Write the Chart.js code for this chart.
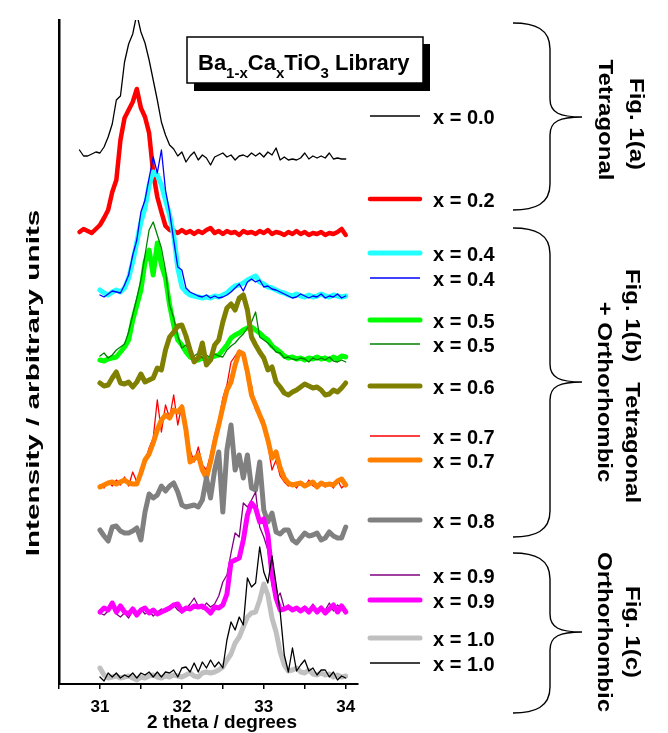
<!DOCTYPE html>
<html>
<head>
<meta charset="utf-8">
<script src="https://cdn.jsdelivr.net/npm/chart.js@4.4.1/dist/chart.umd.min.js"></script>
<style>
  html, body { margin: 0; padding: 0; background: #fff; }
  canvas { display: block; }
</style>
</head>
<body>
<canvas id="xrd" width="668" height="733"></canvas>
<script>
// 2 theta grids (degrees)
const thetaWide = [30.75, 30.80, 30.85, 30.90, 30.95,
  31.00, 31.05, 31.10, 31.15, 31.20, 31.25, 31.30, 31.35, 31.40, 31.45,
  31.50, 31.55, 31.60, 31.65, 31.70, 31.75, 31.80, 31.85, 31.90, 31.95,
  32.00, 32.05, 32.10, 32.15, 32.20, 32.25, 32.30, 32.35, 32.40, 32.45,
  32.50, 32.55, 32.60, 32.65, 32.70, 32.75, 32.80, 32.85, 32.90, 32.95,
  33.00, 33.05, 33.10, 33.15, 33.20, 33.25, 33.30, 33.35, 33.40, 33.45,
  33.50, 33.55, 33.60, 33.65, 33.70, 33.75, 33.80, 33.85, 33.90, 33.95, 34.00];
const theta = [
  31.00, 31.05, 31.10, 31.15, 31.20, 31.25, 31.30, 31.35, 31.40, 31.45,
  31.50, 31.55, 31.60, 31.65, 31.70, 31.75, 31.80, 31.85, 31.90, 31.95,
  32.00, 32.05, 32.10, 32.15, 32.20, 32.25, 32.30, 32.35, 32.40, 32.45,
  32.50, 32.55, 32.60, 32.65, 32.70, 32.75, 32.80, 32.85, 32.90, 32.95,
  33.00, 33.05, 33.10, 33.15, 33.20, 33.25, 33.30, 33.35, 33.40, 33.45,
  33.50, 33.55, 33.60, 33.65, 33.70, 33.75, 33.80, 33.85, 33.90, 33.95, 34.00];

// stacked intensities (arbitrary units, offsets included)
const x00 = [534,528,528,530,532, 531,537,547,560,584, 588,622,640,650,670, 652,641,624,604,584,
  562,549,539,535,528, 532,522,528,532,524, 529,526,519,527,529, 531,527,529,524,528,
  529,527,531,528,531, 527,532,529,536,524, 527,524,525,524,526, 531,525,528,526,528,
  526,531,525,526,525, 525];
const x02 = [452,455,453,451,455, 459,466,474,492,504, 544,566,574,582,595, 576,567,551,511,487,
  472,458,454,453,451, 454,451,453,450,453, 451,454,456,451,453, 450,453,451,452,449,
  453,451,452,450,453, 451,454,450,452,451, 449,452,450,453,450, 452,449,451,450,452,
  449,451,450,452,455, 449];
const x04a = [394,391,389,392,394, 392,396,406,422,442, 462,476,499,512,509, 499,484,469,449,416,
  397,392,389,388,387, 386,387,386,388,387, 389,391,395,398,399, 401,404,406,408,402,
  400,397,396,394,392, 391,389,388,390,388, 387,389,387,388,390, 388,387,389,388,387, 388];
const x04b = [389,387,390,393,392, 391,399,409,429,444, 472,484,506,527,511, 534,494,472,444,417,
  414,396,392,390,388, 387,389,386,388,386, 387,389,392,396,400, 393,402,405,402,404,
  397,398,395,394,392, 390,388,386,387,390, 388,386,388,387,390, 386,388,387,390,386, 388];
const x05a = [324,323,325,326,327, 332,337,344,364,379, 394,422,434,409,441, 419,406,379,359,344,
  339,332,327,325,324, 326,324,326,328,329, 334,339,346,349,351, 354,356,357,354,351,
  347,344,338,335,332, 328,326,327,325,326, 324,326,325,327,325, 326,324,327,325,328, 327];
const x05b = [328,331,326,329,334, 337,340,352,369,386, 404,429,454,462,449, 436,414,379,366,348,
  336,339,331,328,331, 326,329,326,330,328, 327,334,338,341,346, 350,356,362,372,347,
  344,341,337,332,331, 326,327,325,324,326, 325,322,326,324,326, 324,327,323,322,324, 322];
const x06 = [301,298,299,306,312, 301,300,302,297,302, 310,302,304,306,316, 314,334,347,352,358,
  359,348,334,322,326, 341,319,324,339,344, 362,376,380,374,386, 389,374,347,339,332,
  326,314,317,302,297, 291,289,292,294,297, 300,298,296,297,294, 289,290,294,292,296, 301];
const x07a = [199,196,202,198,204, 199,207,198,212,202, 216,222,236,246,284, 252,279,266,289,259,
  279,244,234,222,237, 219,214,229,249,264, 286,299,322,328,334, 332,304,299,274,269,
  264,239,214,224,208, 202,198,201,196,202, 197,204,198,196,202, 197,201,196,204,196, 200];
const x07b = [197,199,201,202,200, 202,204,201,200,200, 211,224,230,241,254, 264,269,266,274,272,
  277,254,222,225,229, 214,206,222,242,259, 277,294,302,319,332, 330,312,289,279,269,
  259,244,226,232,216, 206,201,199,200,201, 198,200,202,197,201, 199,200,199,203,205, 199];
const x08 = [154,148,143,157,158, 153,151,151,153,156, 144,172,190,186,189, 198,193,198,201,192,
  179,177,178,179,177, 184,206,186,214,232, 172,234,259,214,229, 206,229,196,194,222,
  174,162,171,152,150, 154,154,144,141,146, 151,148,149,151,144, 146,152,148,146,146, 157];
const x09a = [71,69,73,78,70, 67,71,66,73,69, 75,70,73,68,72, 75,72,74,79,74,
  71,75,80,86,78, 75,81,77,80,88, 102,109,131,151,147, 181,177,184,192,157,
  147,134,99,84,91, 76,79,73,77,72, 78,74,80,73,77, 74,81,73,79,75, 73];
const x09b = [72,76,74,81,72, 78,72,70,75,69, 74,76,71,74,70, 72,74,76,79,80,
  73,76,75,78,77, 78,75,71,77,76, 79,90,122,124,126, 144,169,181,176,162,
  165,149,109,86,74, 75,77,74,76,73, 76,72,77,72,76, 71,75,79,72,78, 72];
const x10a = [16,9,6,7,8, 6,7,8,6,4, 7,6,8,9,7, 6,8,7,9,8,
  7,9,11,8,7, 11,12,11,12,14, 17,24,30,41,47, 57,67,71,72,84,
  100,89,66,52,32, 19,13,14,16,12, 11,14,10,9,11, 9,10,7,9,7, 8];
const x10b = [7,3,11,7,11, 6,9,7,11,6, 11,9,12,7,12, 7,12,11,14,7,
  16,17,12,21,12, 22,16,24,17,22, 16,44,62,54,67, 59,106,97,101,137,
  112,101,128,100,72, 29,12,36,13,19, 24,13,16,9,14, 14,7,12,4,8, 6];

const labels = ['x = 0.0', 'x = 0.2', 'x = 0.4', 'x = 0.4', 'x = 0.5', 'x = 0.5', 'x = 0.6',
  'x = 0.7', 'x = 0.7', 'x = 0.8', 'x = 0.9', 'x = 0.9', 'x = 1.0', 'x = 1.0'];

// styles, in legend (and drawing) order
const traces = [
  { xs: thetaWide, ys: x00, color: '#000000', width: 1.3 },
  { xs: thetaWide, ys: x02, color: '#ff0000', width: 4.5 },
  { xs: theta, ys: x04a, color: '#22ffff', width: 5 },
  { xs: theta, ys: x04b, color: '#0000ff', width: 1.3 },
  { xs: theta, ys: x05a, color: '#00ff00', width: 5 },
  { xs: theta, ys: x05b, color: '#008000', width: 1.3 },
  { xs: theta, ys: x06, color: '#808000', width: 5 },
  { xs: theta, ys: x07a, color: '#ff0000', width: 1.3 },
  { xs: theta, ys: x07b, color: '#ff8000', width: 5 },
  { xs: theta, ys: x08, color: '#808080', width: 5 },
  { xs: theta, ys: x09a, color: '#800080', width: 1.3 },
  { xs: theta, ys: x09b, color: '#ff00ff', width: 5 },
  { xs: theta, ys: x10a, color: '#c0c0c0', width: 5 },
  { xs: theta, ys: x10b, color: '#000000', width: 1.3 }
];
const legendRows = [116, 199, 253, 278, 320, 344, 386, 436, 460, 520, 575, 600, 638, 663];

const FONT = '"Liberation Sans", Arial, sans-serif';

function rotText(ctx, text, x, y, angle, sx, font) {
  ctx.save();
  ctx.translate(x, y);
  ctx.rotate(angle);
  ctx.scale(sx, 1);
  ctx.font = font;
  ctx.textAlign = 'center';
  ctx.textBaseline = 'alphabetic';
  ctx.fillText(text, 0, 0);
  ctx.restore();
}

function brace(ctx, top, tip, bottom) {
  const x0 = 513, xv = 550, xt = 582;
  ctx.beginPath();
  ctx.moveTo(x0, top);
  ctx.bezierCurveTo(535, top, xv, top + 6, xv, top + 26);
  ctx.lineTo(xv, tip - 18);
  ctx.bezierCurveTo(xv, tip - 4, 560, tip, xt, tip);
  ctx.bezierCurveTo(560, tip, xv, tip + 4, xv, tip + 18);
  ctx.lineTo(xv, bottom - 26);
  ctx.bezierCurveTo(xv, bottom - 6, 535, bottom, x0, bottom);
  ctx.stroke();
}

const decor = {
  id: 'decor',
  afterDraw(chart) {
    const ctx = chart.ctx;
    ctx.save();
    ctx.fillStyle = '#000';
    ctx.strokeStyle = '#000';

    // axis titles
    rotText(ctx, 'Intensity / arbitrary units', 39, 383, -Math.PI / 2, 1.65, 'bold 18px ' + FONT);
    ctx.font = 'bold 19px ' + FONT;
    ctx.textAlign = 'center';
    ctx.fillText('2 theta / degrees', 222, 728);

    // title box with shadow
    ctx.fillRect(194, 44, 236, 47);
    ctx.fillStyle = '#fff';
    ctx.fillRect(187, 37, 236, 46);
    ctx.lineWidth = 1.5;
    ctx.strokeRect(187, 37, 236, 46);
    ctx.fillStyle = '#000';
    ctx.textAlign = 'left';
    let tx = 198;
    const parts = [['Ba', 0], ['1-x', 1], ['Ca', 0], ['x', 1], ['TiO', 0], ['3', 1], [' Library', 0]];
    parts.forEach(([s, sub]) => {
      ctx.font = sub ? 'bold 15px ' + FONT : 'bold 22px ' + FONT;
      ctx.fillText(s, tx, sub ? 78 : 70);
      tx += ctx.measureText(s).width;
    });

    // legend
    traces.forEach((t, i) => {
      const y = legendRows[i];
      ctx.beginPath();
      ctx.strokeStyle = t.color;
      ctx.lineWidth = t.width;
      ctx.lineCap = t.width > 2 ? 'round' : 'butt';
      ctx.moveTo(370, y);
      ctx.lineTo(420, y);
      ctx.stroke();
      ctx.font = 'bold 20px ' + FONT;
      ctx.fillText(labels[i], 433, y + 7.5);
    });

    // braces and group labels
    ctx.strokeStyle = '#000';
    ctx.lineWidth = 1.4;
    ctx.lineCap = 'butt';
    brace(ctx, 23, 117, 210);
    brace(ctx, 228, 382, 537);
    brace(ctx, 553, 632, 713);
    const f = 'bold 20px ' + FONT;
    rotText(ctx, 'Fig. 1(a)', 630, 124, Math.PI / 2, 1.2, f);
    rotText(ctx, 'Tetragonal', 599, 120, Math.PI / 2, 1.2, f);
    rotText(ctx, 'Fig. 1(b)   Tetragonal', 626, 386, Math.PI / 2, 1.2, f);
    rotText(ctx, '+ Orthorhombic', 598, 392, Math.PI / 2, 1.2, f);
    rotText(ctx, 'Fig. 1(c)', 626, 632, Math.PI / 2, 1.2, f);
    rotText(ctx, 'Orthorhombic', 598, 632, Math.PI / 2, 1.2, f);
    ctx.restore();
  }
};

new Chart(document.getElementById('xrd'), {
  type: 'line',
  data: {
    datasets: traces.map((t, i) => ({
      label: labels[i],
      data: t.xs.map((v, k) => ({ x: v, y: t.ys[k] })),
      borderColor: t.color,
      borderWidth: t.width,
      borderJoinStyle: 'round',
      borderCapStyle: 'round',
      pointRadius: 0,
      tension: 0,
      fill: false,
      order: traces.length - i
    }))
  },
  options: {
    responsive: false,
    devicePixelRatio: 1,
    animation: false,
    layout: { padding: { top: 20, right: 310, left: 0, bottom: 0 } },
    plugins: { legend: { display: false }, tooltip: { enabled: false } },
    scales: {
      x: {
        type: 'linear',
        min: 30.5,
        max: 34.15,
        afterFit: (s) => { s.height = 49; },
        border: { display: true, color: '#000', width: 2 },
        grid: { drawOnChartArea: false, drawTicks: true, tickLength: 5, color: '#000', lineWidth: 1.5 },
        ticks: {
          stepSize: 0.5,
          includeBounds: false,
          autoSkip: false,
          maxRotation: 0,
          padding: 8,
          color: '#000',
          font: { family: FONT, size: 17, weight: 'bold' },
          callback: (v) => (Number.isInteger(v) ? String(v) : '')
        }
      },
      y: {
        type: 'linear',
        min: 0,
        max: 664,
        afterFit: (s) => { s.width = 59; },
        border: { display: true, color: '#000', width: 2.5 },
        grid: { display: false },
        ticks: { display: false }
      }
    }
  },
  plugins: [decor]
});
</script>
</body>
</html>
